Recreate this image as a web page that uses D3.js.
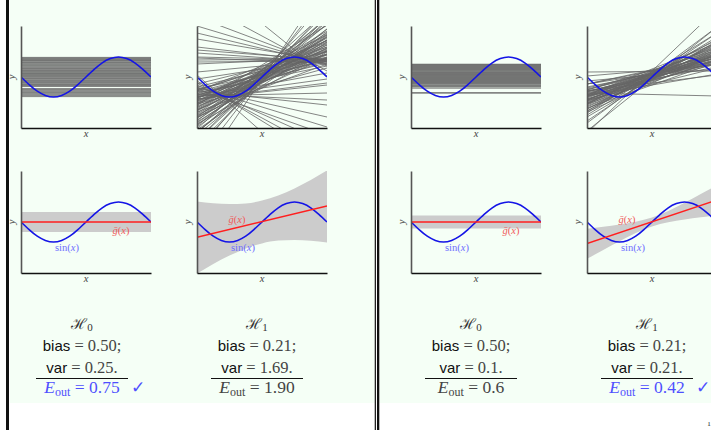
<!DOCTYPE html>
<html>
<head>
<meta charset="utf-8">
<script src="https://cdn.jsdelivr.net/npm/d3@7"></script>
<style>
  body { margin: 0; background: #fff; }
  svg { display: block; }
</style>
</head>
<body>
<div id="chart"></div>
<script>
// --- data ---
// target curve samples (x in [-1, 1])
const sineX = [-1, -0.875, -0.75, -0.625, -0.5, -0.375, -0.25, -0.125, 0, 0.125, 0.25, 0.375, 0.5, 0.625, 0.75, 0.875, 1];
const sineY = [0, -0.38, -0.71, -0.92, -1, -0.92, -0.71, -0.38, 0, 0.38, 0.71, 0.92, 1, 0.92, 0.71, 0.38, 0];

// H0 constant hypotheses (left slide, right slide)
const h0ConstA = [0.98, 0.95, 0.92, 0.88, 0.85, 0.83, 0.8, 0.76, 0.72, 0.7, 0.66, 0.62, 0.57, 0.54, 0.5, 0.46, 0.43,
  0.4, 0.36, 0.33, 0.3, 0.27, 0.22, 0.19, 0.17, 0.13, 0.1, 0.07, 0.03, 0.0, -0.04, -0.07, -0.1, -0.14, -0.18,
  -0.21, -0.24, -0.28, -0.31, -0.35, -0.38, -0.41, -0.44, -0.47, -0.58, -0.62, -0.66, -0.7, -0.74, -0.78, -0.82,
  -0.88, -0.93, -0.98];
const h0ConstB = [0.64, 0.62, 0.6, 0.57, 0.55, 0.52, 0.5, 0.47, 0.45, 0.42, 0.4, 0.37, 0.35, 0.32, 0.28, 0.25,
  0.22, 0.2, 0.18, 0.15, 0.12, 0.1, 0.08, 0.05, 0.02, 0.0, -0.03, -0.05, -0.08, -0.1, -0.13, -0.15, -0.18,
  -0.2, -0.23, -0.25, -0.28, -0.3, -0.33, -0.36, -0.4, -0.43, -0.47, -0.5, -0.56, -0.78, -0.81];

// H1 line hypotheses as [value at x=-1, value at x=1]
const h1LinesA = [
  [-0.6, 0.8], [-0.9, 0.7], [-0.9, 0.9], [-0.85, 1.15], [-1.2, 0.8], [-1.05, 1.15], [-1.3, 1.1], [-1.0, 1.4],
  [-1.3, 1.3], [-1.05, 1.65], [-1.65, 1.15], [-1.4, 1.6], [-1.65, 1.45], [-1.35, 1.85], [-1.7, 1.7], [-2.05, 1.45],
  [-1.65, 1.95], [-1.95, 1.85], [-1.8, 2.2], [-2.25, 1.85], [-2.05, 2.15], [-2.3, 2.1], [-2.0, 2.6], [-2.4, 2.4],
  [-2.75, 2.25], [-2.45, 2.75], [-2.75, 2.65], [-2.8, 3.0], [-3.15, 2.85], [-3.15, 3.25], [-3.6, 3.4], [-3.7, 3.9],
  [-4.2, 4.2], [-4.9, 4.7], [-0.1, 0.9], [-1.0, 0.2], [-1.0, -0.1], [0.25, 0.85], [-1.1, -0.4], [-0.7, 1.5],
  [-1.1, 2.1], [-0.7, 1.8], [-1.4, 2.6], [-2.0, 1.0], [-2.35, 1.25], [-2.65, 1.75], [-1.75, 0.65], [-1.35, 0.45],
  [-0.35, 1.25], [-0.75, 1.0], [-1.15, 0.95], [-1.5, 1.3], [-1.85, 1.6], [-2.15, 2.0], [-2.5, 2.05], [-1.2, 1.75],
  [-1.55, 2.3], [-2.2, 2.9], [-2.6, 3.3], [-0.95, 1.35], [-1.45, 0.95], [-1.9, 1.3], [-0.5, 1.1], [-0.8, 0.55],
  [-1.6, 2.0], [-2.9, 2.4], [-3.4, 3.0], [-1.25, 1.5], [-0.65, 1.3],
  [1.0, 0.85], [0.85, 0.9], [0.75, 0.8], [0.95, 0.7], [0.65, 0.95], [1.2, 0.75],
  [2.55, 0.6], [3.0, 0.55], [5.3, 0.05], [1.9, 0.8], [1.5, 0.75], [2.2, 0.65], [3.8, 0.3], [1.35, 0.85],
  [-1.1, -0.3], [-0.95, -0.8], [-0.7, -1.4], [-0.5, -2.5], [-0.4, -3.3], [-0.2, -4.2], [0.1, -5.6], [-0.6, -2.9],
  [-0.85, -1.15], [-0.3, -3.8], [-0.55, -2.0]
];
const h1LinesB = [
  [-0.35, 0.65], [-0.7, 0.5], [-0.35, 0.95], [-0.7, 0.7], [-0.55, 0.95], [-0.95, 0.65], [-0.75, 0.95], [-0.95, 0.85],
  [-0.65, 1.15], [-0.9, 1.0], [-1.2, 0.8], [-0.9, 1.1], [-1.1, 1.0], [-0.95, 1.25], [-1.35, 0.85], [-1.15, 1.15],
  [-0.9, 1.5], [-1.3, 1.1], [-1.15, 1.35], [-1.45, 1.15], [-1.15, 1.55], [-1.4, 1.4], [-1.75, 1.15], [-1.35, 1.65],
  [-1.6, 1.5], [-1.35, 1.85], [-1.7, 1.7], [-1.7, 1.9], [-2.0, 1.8], [-1.8, 2.2], [-2.2, 2.2], [-2.3, 2.5],
  [-2.7, 2.5], [-2.8, 3.4], [-0.7, 0.1], [-0.2, 0.4], [-0.95, 0.15], [-0.65, 1.35], [-1.15, 0.45], [-0.9, 1.7],
  [-1.55, 0.75], [-0.35, 1.05], [-0.8, 0.8], [-1.0, 0.9], [-1.25, 1.2], [-1.05, 1.3], [-0.85, 1.2], [-1.5, 1.3],
  [-1.2, 1.0], [-0.6, 0.85], [-1.0, 1.45], [-1.3, 1.6], [-0.75, 1.05], [-1.6, 1.75], [-0.5, 0.8], [-1.1, 0.75],
  [-1.9, 2.0], [0.25, 0.3], [-0.8, -0.95], [0.05, 0.6]
];

// average hypothesis g-bar, [value at x=-1, value at x=1]
const gbarH0A = [0, 0];
const gbarH1A = [-0.76, 0.8];
const gbarH0B = [0, 0];
const gbarH1B = [-1.08, 1.1];

// +/- sqrt(var) bands around g-bar
const bandFlatX = [-1, 1];
const bandX = [-1, -0.75, -0.5, -0.25, 0, 0.25, 0.5, 0.75, 1];
const bandH0AUpper = [0.5, 0.5];
const bandH0ALower = [-0.5, -0.5];
const bandH1AUpper = [1.02, 0.94, 0.9, 0.93, 1.07, 1.32, 1.68, 2.1, 2.58];
const bandH1ALower = [-2.58, -2.1, -1.68, -1.32, -1.07, -0.93, -0.9, -0.94, -1.02];
const bandH0BUpper = [0.33, 0.33];
const bandH0BLower = [-0.33, -0.33];
const bandH1BUpper = [-0.34, -0.24, -0.125, 0.01, 0.22, 0.55, 0.965, 1.4, 1.84];
const bandH1BLower = [-1.84, -1.4, -0.965, -0.55, -0.22, -0.01, 0.125, 0.24, 0.34];

// summary numbers under each column
const hypIndex = ["0", "1", "0", "1"];
const biasVals = ["0.50;", "0.21;", "0.50;", "0.21;"];
const varVals = ["0.25.", "1.69.", "0.1.", "0.21."];
const eoutVals = ["0.75", "1.90", "0.6", "0.42"];
const eoutBest = [true, false, false, true];

// --- layout ---
const width = 711, height = 430;
const plotW = 130, plotH = 102;
const slideOffsets = [0, 390];
const colX = [21, 197];
const rowTop = [26, 171];
const textCenters = [82, 257, 471, 647];

const blue = "#1414e6";
const red = "#ff1f1f";
const lineGray = "#666";
const serif = "'Liberation Serif', 'DejaVu Serif', serif";
const sans = "'Liberation Sans', 'DejaVu Sans', sans-serif";

const svg = d3.select("#chart").append("svg")
  .attr("width", width)
  .attr("height", height);

// slide backgrounds and frame rules
svg.append("rect").attr("x", 10).attr("y", 0).attr("width", 364.7).attr("height", 403).attr("fill", "#f5fff6");
svg.append("rect").attr("x", 379.5).attr("y", 0).attr("width", 332).attr("height", 403).attr("fill", "#f5fff6");
svg.append("rect").attr("x", 6).attr("y", 0).attr("width", 3).attr("height", height).attr("fill", "#111");
svg.append("rect").attr("x", 374.7).attr("y", 0).attr("width", 1.3).attr("height", height).attr("fill", "#222");
svg.append("rect").attr("x", 377).attr("y", 0).attr("width", 2.3).attr("height", height).attr("fill", "#111");

const panels = [
  { slide: 0, col: 0, row: 0, kind: "const", data: h0ConstA },
  { slide: 0, col: 1, row: 0, kind: "lines", data: h1LinesA },
  { slide: 0, col: 0, row: 1, kind: "mean", gbar: gbarH0A, bx: bandFlatX, up: bandH0AUpper, lo: bandH0ALower, gLabel: [121, 234], sLabel: [67, 251] },
  { slide: 0, col: 1, row: 1, kind: "mean", gbar: gbarH1A, bx: bandX, up: bandH1AUpper, lo: bandH1ALower, gLabel: [237, 223], sLabel: [243, 251] },
  { slide: 1, col: 0, row: 0, kind: "const", data: h0ConstB },
  { slide: 1, col: 1, row: 0, kind: "lines", data: h1LinesB },
  { slide: 1, col: 0, row: 1, kind: "mean", gbar: gbarH0B, bx: bandFlatX, up: bandH0BUpper, lo: bandH0BLower, gLabel: [121, 234], sLabel: [67, 251] },
  { slide: 1, col: 1, row: 1, kind: "mean", gbar: gbarH1B, bx: bandX, up: bandH1BUpper, lo: bandH1BLower, gLabel: [237, 223], sLabel: [243, 251] }
];

panels.forEach((p, i) => {
  const x0 = colX[p.col] + slideOffsets[p.slide];
  const top = rowTop[p.row];
  const x = d3.scaleLinear().domain([-1, 1]).range([x0, x0 + plotW]);
  const y = d3.scaleLinear().domain([-2.55, 2.55]).range([top + plotH, top]);

  const clipId = `clip-${i}`;
  svg.append("clipPath").attr("id", clipId)
    .append("rect")
    .attr("x", x0).attr("y", top)
    .attr("width", plotW).attr("height", plotH);

  const g = svg.append("g");
  const body = g.append("g").attr("clip-path", `url(#${clipId})`);
  const seg = d3.line().x(d => x(d[0])).y(d => y(d[1]));

  if (p.kind === "const") {
    body.selectAll("path.h")
      .data(p.data)
      .join("path")
      .attr("d", c => seg([[-1, c], [1, c]]))
      .attr("stroke", lineGray)
      .attr("stroke-width", 0.8)
      .attr("fill", "none");
  } else if (p.kind === "lines") {
    body.selectAll("path.h")
      .data(p.data)
      .join("path")
      .attr("d", d => seg([[-1, d[0]], [1, d[1]]]))
      .attr("stroke", lineGray)
      .attr("stroke-width", 0.8)
      .attr("fill", "none");
  } else {
    const area = d3.area()
      .x((d, j) => x(p.bx[j]))
      .y0((d, j) => y(p.lo[j]))
      .y1((d, j) => y(p.up[j]))
      .curve(d3.curveMonotoneX);
    body.append("path")
      .attr("d", area(p.bx))
      .attr("fill", "#cccccc");
  }

  // target sin curve
  const sineLine = d3.line()
    .x((d, j) => x(sineX[j]))
    .y(d => y(d))
    .curve(d3.curveNatural);
  body.append("path")
    .attr("d", sineLine(sineY))
    .attr("fill", "none")
    .attr("stroke", blue)
    .attr("stroke-width", 1.6);

  if (p.kind === "mean") {
    body.append("path")
      .attr("d", seg([[-1, p.gbar[0]], [1, p.gbar[1]]]))
      .attr("stroke", red)
      .attr("stroke-width", 1.6)
      .attr("fill", "none");

    const off = slideOffsets[p.slide];
    const gl = g.append("text")
      .attr("x", p.gLabel[0] + off).attr("y", p.gLabel[1])
      .attr("text-anchor", "middle")
      .attr("font-family", serif).attr("font-size", 10.5)
      .attr("fill", "#f05a5a");
    gl.append("tspan").attr("font-style", "italic").text("ḡ");
    gl.append("tspan").text("(");
    gl.append("tspan").attr("font-style", "italic").text("x");
    gl.append("tspan").text(")");

    const sl = g.append("text")
      .attr("x", p.sLabel[0] + off).attr("y", p.sLabel[1])
      .attr("text-anchor", "middle")
      .attr("font-family", serif).attr("font-size", 10.5)
      .attr("fill", "#6e6eff");
    sl.append("tspan").text("sin(");
    sl.append("tspan").attr("font-style", "italic").text("x");
    sl.append("tspan").text(")");
  }

  // axes without ticks
  const yAxis = g.append("g")
    .attr("transform", `translate(${x0},0)`)
    .call(d3.axisLeft(y).tickValues([]).tickSizeOuter(0));
  yAxis.select(".domain").attr("stroke", "#555").attr("stroke-width", 1.6);

  const xAxis = g.append("g")
    .attr("transform", `translate(0,${top + plotH})`)
    .call(d3.axisBottom(x).tickValues([]).tickSizeOuter(0));
  xAxis.select(".domain").attr("stroke", "#111").attr("stroke-width", 1.3);

  g.append("text")
    .attr("transform", `translate(${x0 - 6},${top + plotH / 2}) rotate(-90)`)
    .attr("text-anchor", "middle")
    .attr("font-family", serif).attr("font-style", "italic").attr("font-size", 10.5)
    .attr("fill", "#444")
    .text("y");

  g.append("text")
    .attr("x", x0 + plotW / 2).attr("y", top + plotH + 9)
    .attr("text-anchor", "middle")
    .attr("font-family", serif).attr("font-style", "italic").attr("font-size", 10.5)
    .attr("fill", "#444")
    .text("x");
});

// summary text under each column
textCenters.forEach((cx, i) => {
  const t = svg.append("g");

  const h = t.append("text")
    .attr("x", cx).attr("y", 329)
    .attr("text-anchor", "middle")
    .attr("font-family", serif).attr("fill", "#333");
  h.append("tspan").attr("font-family", "'DejaVu Serif', serif").attr("font-size", 15).text("ℋ");
  h.append("tspan").attr("font-size", 11).attr("dy", 2).text(hypIndex[i]);

  const b = t.append("text")
    .attr("x", cx).attr("y", 351)
    .attr("text-anchor", "middle");
  b.append("tspan").attr("font-family", sans).attr("font-size", 15).attr("fill", "#111").text("bias");
  b.append("tspan").attr("font-family", serif).attr("font-size", 16.5).attr("fill", "#444").text(" = " + biasVals[i]);

  const v = t.append("text")
    .attr("x", cx).attr("y", 373)
    .attr("text-anchor", "middle");
  v.append("tspan").attr("font-family", sans).attr("font-size", 15).attr("fill", "#111").text("var");
  v.append("tspan").attr("font-family", serif).attr("font-size", 16.5).attr("fill", "#444").text(" = " + varVals[i]);

  t.append("line")
    .attr("x1", cx - 46).attr("x2", cx + 46)
    .attr("y1", 378.5).attr("y2", 378.5)
    .attr("stroke", "#111").attr("stroke-width", 1);

  const eColor = eoutBest[i] ? "#4f4fff" : "#444";
  const e = t.append("text")
    .attr("x", cx).attr("y", 393)
    .attr("text-anchor", "middle")
    .attr("font-family", serif).attr("font-size", 17.5)
    .attr("fill", eColor);
  e.append("tspan").attr("font-style", "italic").text("E");
  e.append("tspan").attr("font-size", 12).attr("dy", 3).text("out");
  e.append("tspan").attr("dy", -3).text(" = " + eoutVals[i]);

  if (eoutBest[i]) {
    t.append("text")
      .attr("x", cx + 56).attr("y", 393)
      .attr("text-anchor", "middle")
      .attr("font-family", "'DejaVu Sans', sans-serif").attr("font-size", 17)
      .attr("fill", "#4f4fff")
      .text("✓");
  }
});

// page number at the bottom right
svg.append("text")
  .attr("x", 709).attr("y", 426)
  .attr("text-anchor", "middle")
  .attr("font-family", serif).attr("font-size", 7)
  .attr("fill", "#111")
  .text("1");
</script>
</body>
</html>
